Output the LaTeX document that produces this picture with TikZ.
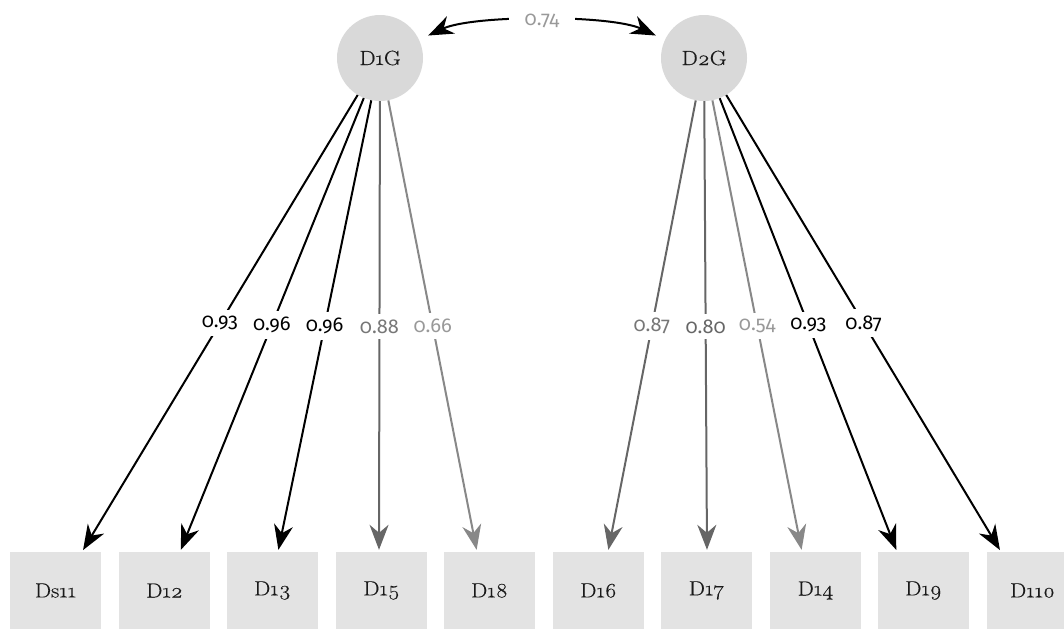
\documentclass[tikz,border=0pt]{standalone}
\usepackage{fontspec}
\setmainfont{Latin Modern Roman}[Numbers=OldStyle, FakeStretch=1.12, FakeBold=0.4]
\newfontfamily\labfont{Fira Sans}[Numbers=OldStyle]
\usetikzlibrary{arrows.meta}
\definecolor{circfill}{HTML}{D9D9D9}
\definecolor{boxfill}{HTML}{E3E3E3}
\definecolor{txt}{HTML}{1A1A1A}
\definecolor{gA}{HTML}{666666}
\definecolor{gB}{HTML}{888888}
\definecolor{lA}{HTML}{777777}
\definecolor{lB}{HTML}{999999}
\tikzset{
  latent/.style={circle, fill=circfill, minimum size=86pt, inner sep=0pt, text=txt, font=\fontsize{20.5}{22}\selectfont},
  obs/.style={rectangle, fill=boxfill, minimum width=91pt, minimum height=77pt, inner sep=0pt, text=txt, font=\fontsize{20.5}{22}\selectfont},
  ld/.style={line width=2pt, -{Stealth[length=25pt,width=19pt,inset=8pt]}, shorten >=2pt},
  lab/.style={fill=white, inner xsep=1pt, inner ysep=6pt, font=\labfont\fontsize{20}{22}\selectfont},
  cov/.style={line width=2pt, {Stealth[length=25pt,width=19pt,inset=8pt]}-{Stealth[length=25pt,width=19pt,inset=8pt]}, shorten <=10pt, shorten >=10pt}
}
\begin{document}
\begin{tikzpicture}[x=1pt,y=-1pt]
\useasboundingbox (0,0) rectangle (1064,630);
\node[latent] (D1G) at (380,58) {D1G};
\node[latent] (D2G) at (704,58) {D2G};
\node[obs] (Ds11) at (55.5,590.5) {Ds11};
\node[obs] (D12) at (164.5,590.5) {D12};
\node[obs] (D13) at (272.5,590.5) {D13};
\node[obs] (D15) at (381.5,590.5) {D15};
\node[obs] (D18) at (489.5,590.5) {D18};
\node[obs] (D16) at (598.5,590.5) {D16};
\node[obs] (D17) at (706.5,590.5) {D17};
\node[obs] (D14) at (815.5,590.5) {D14};
\node[obs] (D19) at (923.5,590.5) {D19};
\node[obs] (D110) at (1032.5,590.5) {D110};
\draw[cov] (D1G) to[out=25,in=155,looseness=0.62] node[lab, text=lB, inner xsep=16pt]{0.74} (D2G);
\draw[ld, black] (D1G) -- node[lab, text=black]{0.93} ([xshift=26.5]Ds11.north);
\draw[ld, black] (D1G) -- node[lab, text=black]{0.96} ([xshift=15.5]D12.north);
\draw[ld, black] (D1G) -- node[lab, text=black]{0.96} ([xshift=5.5]D13.north);
\draw[ld, gA] (D1G) -- node[lab, text=lA]{0.88} ([xshift=-2.5]D15.north);
\draw[ld, gB] (D1G) -- node[lab, text=lB]{0.66} ([xshift=-12.5]D18.north);
\draw[ld, gA] (D2G) -- node[lab, text=lA]{0.87} ([xshift=9.5]D16.north);
\draw[ld, gA] (D2G) -- node[lab, text=gA]{0.80} ([xshift=0.5]D17.north);
\draw[ld, gB] (D2G) -- node[lab, text=lB]{0.54} ([xshift=-13.5]D14.north);
\draw[ld, black] (D2G) -- node[lab, text=black]{0.93} ([xshift=-26.5]D19.north);
\draw[ld, black] (D2G) -- node[lab, text=black]{0.87} ([xshift=-31.5]D110.north);
\end{tikzpicture}
\end{document}
